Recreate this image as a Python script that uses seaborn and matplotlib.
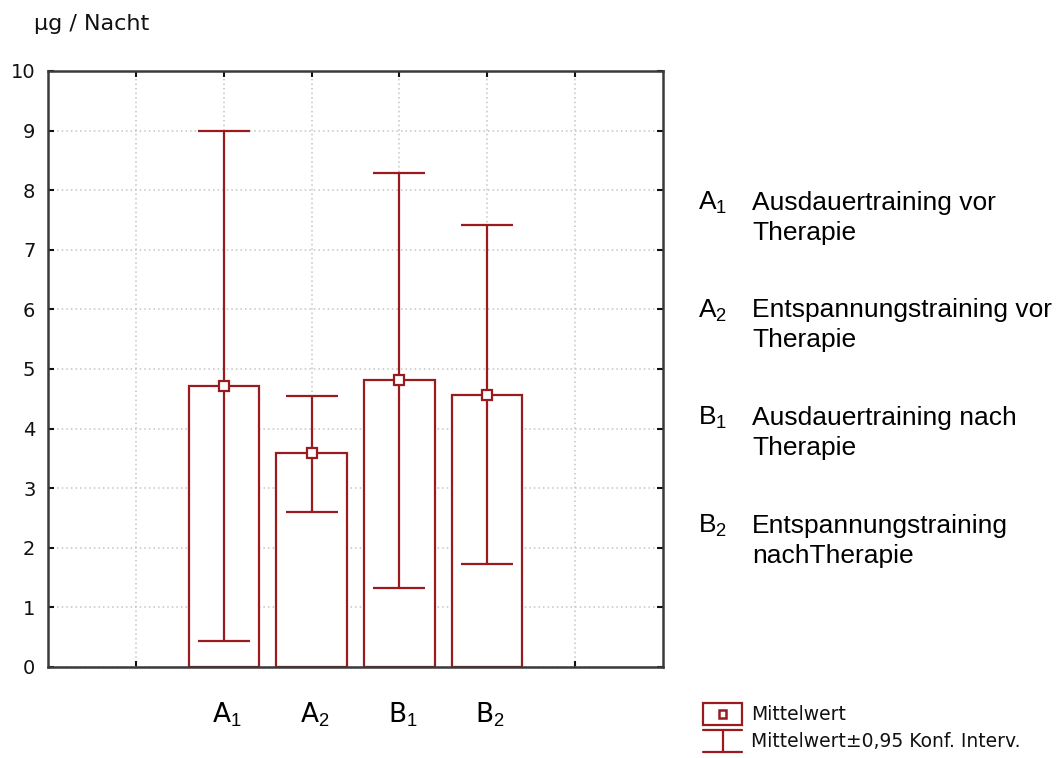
import numpy as np
import matplotlib
matplotlib.use("Agg")
import matplotlib.pyplot as plt
import seaborn as sns
from matplotlib.legend_handler import HandlerBase
from matplotlib.patches import Rectangle
from matplotlib.lines import Line2D
from matplotlib.transforms import ScaledTranslation

# Group labels and values (µg per night)
groups = ["A1", "A2", "B1", "B2"]
group_labels = [r"A$_{1}$", r"A$_{2}$", r"B$_{1}$", r"B$_{2}$"]
means = [4.71, 3.59, 4.82, 4.56]
ci_low = [0.44, 2.60, 1.32, 1.73]
ci_high = [8.99, 4.55, 8.29, 7.42]
y_ticks = list(range(0, 11))
descriptions = [
    ("Ausdauertraining vor", "Therapie"),
    ("Entspannungstraining vor", "Therapie"),
    ("Ausdauertraining nach", "Therapie"),
    ("Entspannungstraining", "nachTherapie"),
]
legend_labels = ["Mittelwert", "Mittelwert\u00b10,95 Konf. Interv."]

RED = "#991b1e"
SPINE = "#3a3a3a"
TXT = "#111111"

sns.set_theme(style="white")
plt.rcParams["font.family"] = ["DejaVu Sans"]
plt.rcParams["text.color"] = TXT
plt.rcParams["mathtext.fontset"] = "custom"
plt.rcParams["mathtext.rm"] = "Liberation Sans"
plt.rcParams["mathtext.it"] = "Liberation Sans:italic"
plt.rcParams["mathtext.bf"] = "Liberation Sans:bold"
plt.rcParams["mathtext.default"] = "rm"

fig = plt.figure(figsize=(10.58, 7.58), dpi=100)
ax = fig.add_axes([48 / 1058, 1 - 667 / 758, (663 - 48) / 1058, (667 - 71) / 758])

# Bars for the means
sns.barplot(x=groups, y=means, order=groups, width=0.8, color="white",
            edgecolor=RED, linewidth=1.6, errorbar=None, ax=ax, zorder=2)
for p in ax.patches:
    p.set_facecolor("white")
    p.set_edgecolor(RED)

pos = np.arange(len(groups))
m = np.array(means)
lo = np.array(ci_low)
hi = np.array(ci_high)
ax.errorbar(pos, m, yerr=[m - lo, hi - m], fmt="none", ecolor=RED,
            elinewidth=1.6, capsize=18.5, capthick=1.6, zorder=3)
ax.plot(pos, m, ls="none", marker="s", ms=6.5, mfc="white", mec=RED,
        mew=1.6, zorder=4)

# Axes layout
ax.set_xlim(-2, 5)
ax.set_ylim(0, 10)
ax.set_xticks([-1, 0, 1, 2, 3, 4])
ax.set_xticklabels([""] + group_labels + [""], fontsize=19, color="black")
ax.set_yticks(y_ticks)
ax.set_yticklabels([str(v) for v in y_ticks], fontsize=14, color=TXT)
ax.set_xlabel("")
ax.set_ylabel("")
ax.grid(True, color="#c4c4c4", linestyle=(0, (1, 2)), linewidth=1.1)
ax.set_axisbelow(True)
for s in ax.spines.values():
    s.set_visible(True)
    s.set_color(SPINE)
    s.set_linewidth(1.8)
ax.tick_params(axis="both", direction="in", length=4, width=1.5,
               color="#111111", top=True, right=True, bottom=True, left=True)
ax.tick_params(axis="x", pad=24)
ax.tick_params(axis="y", pad=9)
shift = ScaledTranslation(3 / 100, 0, fig.dpi_scale_trans)
for lab in ax.get_xticklabels():
    lab.set_transform(lab.get_transform() + shift)

fig.text(34 / 1058, 1 - 24 / 758, "\u00b5g / Nacht", fontsize=16,
         ha="left", va="center", color=TXT)

# Group descriptions to the right of the plot
for i, (label, (l1, l2)) in enumerate(zip(group_labels, descriptions)):
    base = 210 + i * 107.5
    fig.text(698 / 1058, 1 - base / 758, label, fontsize=19,
             family="Liberation Sans", ha="left", va="baseline", color="black")
    fig.text(752 / 1058, 1 - base / 758, l1, fontsize=19,
             family="Liberation Sans", ha="left", va="baseline", color="black")
    fig.text(752 / 1058, 1 - (base + 30) / 758, l2, fontsize=19,
             family="Liberation Sans", ha="left", va="baseline", color="black")


class BarMeanHandler(HandlerBase):
    def create_artists(self, legend, orig_handle, xdescent, ydescent,
                       width, height, fontsize, trans):
        outer = Rectangle((-xdescent, -ydescent), width, height,
                          facecolor="white", edgecolor=RED, linewidth=1.6,
                          transform=trans)
        s = height * 0.34
        inner = Rectangle((-xdescent + width / 2 - s / 2, -ydescent + height / 2 - s / 2),
                          s, s, facecolor="white", edgecolor=RED, linewidth=1.8,
                          transform=trans)
        return [outer, inner]


class CIHandler(HandlerBase):
    def create_artists(self, legend, orig_handle, xdescent, ydescent,
                       width, height, fontsize, trans):
        x0, y0 = -xdescent, -ydescent
        xc = x0 + width / 2
        top = Line2D([x0, x0 + width], [y0 + height, y0 + height], color=RED,
                     lw=1.6, transform=trans)
        bot = Line2D([x0, x0 + width], [y0, y0], color=RED, lw=1.6,
                     transform=trans)
        vert = Line2D([xc, xc], [y0, y0 + height], color=RED, lw=1.6,
                      transform=trans)
        return [top, bot, vert]


h_mean = Rectangle((0, 0), 1, 1)
h_ci = Line2D([], [])
fig.legend([h_mean, h_ci], legend_labels,
           handler_map={Rectangle: BarMeanHandler(), Line2D: CIHandler()},
           loc="upper left", bbox_to_anchor=(703 / 1058, 1 - 703 / 758),
           frameon=False, borderpad=0, borderaxespad=0, fontsize=13.5,
           handlelength=2.1, handleheight=1.4, handletextpad=0.45,
           labelspacing=0.3, labelcolor=TXT)

fig.savefig("out.png", dpi=100)
